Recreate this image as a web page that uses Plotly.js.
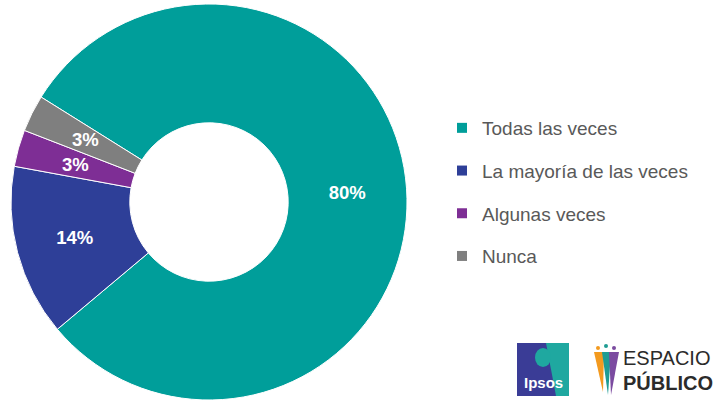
<!DOCTYPE html>
<html><head><meta charset="utf-8">
<script src="https://cdn.plot.ly/plotly-3.0.1.min.js"></script>
<style>html,body{margin:0;padding:0;background:#fff}#chart{width:716px;height:402px}</style>
</head><body><div id="chart"></div>
<script>
const categories = ["Todas las veces", "La mayoría de las veces", "Algunas veces", "Nunca"];
const values = [80, 14, 3, 3];
const colors = ["#009E9A", "#2E3F98", "#7E2E95", "#7F7F7F"];

const FONT = "Liberation Sans, Arial, sans-serif";
const W = 716, H = 402;
const DOM_X = [11 / W, 407 / W], DOM_Y = [2 / H, 398 / H];
const ROT = -58, HOLE = 0.4;

// small slices get their labels drawn as annotations at mid-angle / mid-ring
const total = values.reduce((a, b) => a + b, 0);
const isSmall = values.map(v => v / total < 0.05);
const fmt = v => Math.round(100 * v / total) + "%";

const pie = {
  type: "pie",
  labels: categories,
  values: values,
  sort: false,
  direction: "clockwise",
  rotation: ROT,
  hole: HOLE,
  marker: {colors: colors, line: {color: "#ffffff", width: 1}},
  texttemplate: values.map((v, i) => isSmall[i] ? "" : "%{percent:.0%}"),
  textposition: "inside",
  insidetextorientation: "horizontal",
  textfont: {family: FONT, size: 18.5, color: "#ffffff", weight: "bold"},
  domain: {x: DOM_X, y: DOM_Y},
  showlegend: false,
  hoverinfo: "label+percent"
};

const legendTraces = categories.map((c, i) => ({
  type: "scatter", mode: "markers", x: [null], y: [null],
  name: c, legendgroup: "g" + i,
  marker: {symbol: "square", size: 10, color: colors[i]},
  xaxis: "x", yaxis: "y", hoverinfo: "skip"
}));

// label annotations for small slices, positioned from the data
const cxPx = (DOM_X[0] + DOM_X[1]) / 2 * W;
const cyPx = (1 - (DOM_Y[0] + DOM_Y[1]) / 2) * H;
const R = Math.min((DOM_X[1] - DOM_X[0]) * W, (DOM_Y[1] - DOM_Y[0]) * H) / 2;
const rMid = R * (1 + HOLE) / 2;
const sliceLabels = [];
let cum = 0;
values.forEach((v, i) => {
  const mid = (ROT + 360 * (cum + v / 2) / total) * Math.PI / 180;
  cum += v;
  if (!isSmall[i]) return;
  const px = cxPx + rMid * Math.sin(mid);
  const py = cyPx - rMid * Math.cos(mid);
  sliceLabels.push({xref: "paper", yref: "paper", x: px / W, y: 1 - py / H,
    text: "<b>" + fmt(v) + "</b>", showarrow: false, xanchor: "center", yanchor: "middle",
    font: {family: FONT, size: 18.5, color: "#ffffff"}});
});

const P = (x, y) => (x / W) + " " + (1 - y / H);

const layout = {
  width: W, height: H,
  margin: {l: 0, r: 0, t: 0, b: 0},
  paper_bgcolor: "#ffffff", plot_bgcolor: "#ffffff",
  xaxis: {visible: false, domain: [0.99, 1]},
  yaxis: {visible: false, domain: [0.99, 1]},
  uniformtext: {mode: "show", minsize: 18.5},
  showlegend: true,
  legend: {
    x: 442 / W, xanchor: "left", y: 1 - 109 / H, yanchor: "top",
    font: {family: FONT, size: 19, color: "#595959"},
    tracegroupgap: 15, itemwidth: 30,
    bgcolor: "rgba(0,0,0,0)"
  },
  shapes: [
    {type: "rect", xref: "paper", yref: "paper", x0: 517 / W, x1: 569 / W, y0: 1 - 396 / H, y1: 1 - 343 / H, fillcolor: "#3A3C96", line: {width: 0}},
    {type: "path", xref: "paper", yref: "paper", path: "M " + P(546, 343) + " L " + P(569, 343) + " L " + P(569, 396) + " L " + P(556, 396) + " Z", fillcolor: "#1FA8A0", line: {width: 0}},
    {type: "circle", xref: "paper", yref: "paper", x0: 535 / W, x1: 551 / W, y0: 1 - 367 / H, y1: 1 - 348 / H, fillcolor: "#1FA8A0", line: {width: 0}},
    {type: "path", xref: "paper", yref: "paper", path: "M " + P(594, 352) + " L " + P(604, 352) + " L " + P(603, 392) + " Z", fillcolor: "#F39A1F", line: {width: 0}},
    {type: "path", xref: "paper", yref: "paper", path: "M " + P(602, 352) + " L " + P(611, 352) + " L " + P(608, 395) + " Z", fillcolor: "#1E9C93", line: {width: 0}},
    {type: "path", xref: "paper", yref: "paper", path: "M " + P(609, 352) + " L " + P(619, 352) + " L " + P(611, 395) + " Z", fillcolor: "#7B4BA0", line: {width: 0}},
    {type: "circle", xref: "paper", yref: "paper", x0: 596 / W, x1: 600 / W, y0: 1 - 350 / H, y1: 1 - 346 / H, fillcolor: "#F39A1F", line: {width: 0}},
    {type: "circle", xref: "paper", yref: "paper", x0: 604 / W, x1: 608 / W, y0: 1 - 348 / H, y1: 1 - 344 / H, fillcolor: "#1E9C93", line: {width: 0}},
    {type: "circle", xref: "paper", yref: "paper", x0: 612 / W, x1: 616 / W, y0: 1 - 350 / H, y1: 1 - 346 / H, fillcolor: "#7B4BA0", line: {width: 0}}
  ],
  annotations: sliceLabels.concat([
    {xref: "paper", yref: "paper", x: 543 / W, y: 1 - 382 / H, text: "<b>Ipsos</b>", showarrow: false,
     font: {family: FONT, size: 15, color: "#ffffff"}, xanchor: "center", yanchor: "middle"},
    {xref: "paper", yref: "paper", x: 621 / W, y: 1 - 358 / H, text: "ESPACIO", showarrow: false,
     font: {family: FONT, size: 20, color: "#2b2b2b"}, xanchor: "left", yanchor: "middle"},
    {xref: "paper", yref: "paper", x: 621 / W, y: 1 - 382 / H, text: "<b>PÚBLICO</b>", showarrow: false,
     font: {family: FONT, size: 20, color: "#2b2b2b"}, xanchor: "left", yanchor: "middle"}
  ])
};

Plotly.newPlot("chart", [pie].concat(legendTraces), layout, {displayModeBar: false, staticPlot: true});
</script>
</body></html>
